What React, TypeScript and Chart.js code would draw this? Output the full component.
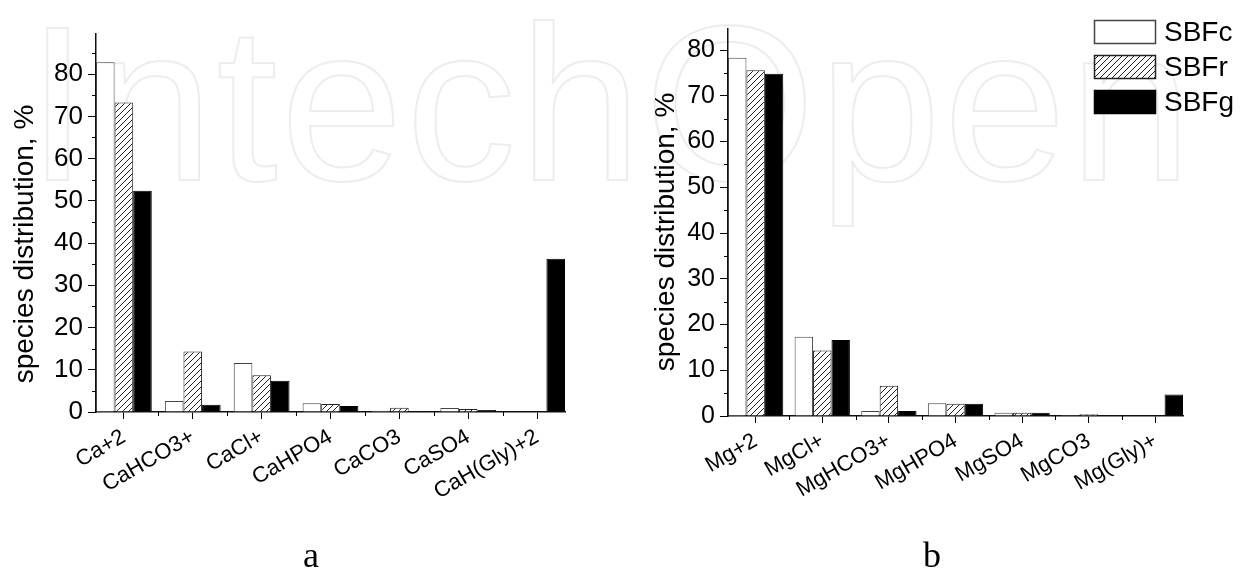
import React, { useEffect, useRef } from 'react';
import { Chart, registerables } from 'chart.js';

Chart.register(...registerables);

const seriesNames = ['SBFc', 'SBFr', 'SBFg'];

const caCategories = ['Ca+2', 'CaHCO3+', 'CaCl+', 'CaHPO4', 'CaCO3', 'CaSO4', 'CaH(Gly)+2'];
const caSBFc = [82.8, 2.6, 11.6, 2.1, 0.3, 0.95, 0];
const caSBFr = [73.3, 14.3, 8.7, 1.9, 1.0, 0.7, 0];
const caSBFg = [52.4, 1.7, 7.4, 1.4, 0.2, 0.5, 36.3];

const mgCategories = ['Mg+2', 'MgCl+', 'MgHCO3+', 'MgHPO4', 'MgSO4', 'MgCO3', 'Mg(Gly)+'];
const mgSBFc = [78.3, 17.3, 1.1, 2.8, 0.7, 0.2, 0];
const mgSBFr = [75.6, 14.3, 6.6, 2.7, 0.7, 0.4, 0];
const mgSBFg = [74.8, 16.6, 1.1, 2.7, 0.7, 0.15, 4.7];

const yTitle = 'species distribution, %';
const FONT = "'Liberation Sans', Arial, sans-serif";

function makeHatch(): CanvasPattern | string {
  const s = 6;
  const c = document.createElement('canvas');
  c.width = s;
  c.height = s;
  const g = c.getContext('2d');
  if (!g) return '#888';
  g.fillStyle = '#fff';
  g.fillRect(0, 0, s, s);
  g.strokeStyle = '#222';
  g.lineWidth = 1;
  g.beginPath();
  g.moveTo(0, s);
  g.lineTo(s, 0);
  g.moveTo(-2, 2);
  g.lineTo(2, -2);
  g.moveTo(s - 2, s + 2);
  g.lineTo(s + 2, s - 2);
  g.stroke();
  const p = g.createPattern(c, 'repeat');
  return p || '#888';
}

const decorPlugin = {
  id: 'decor',
  afterDraw(chart: any, _args: any, opts: any) {
    const ctx = chart.ctx as CanvasRenderingContext2D;
    const xs = chart.scales.x;
    const ys = chart.scales.y;
    ctx.save();
    ctx.strokeStyle = '#000';
    ctx.lineWidth = 1;
    // minor y ticks
    for (let v = 5; v < opts.yMax; v += 10) {
      const py = Math.round(ys.getPixelForValue(v)) + 0.5;
      ctx.beginPath();
      ctx.moveTo(chart.chartArea.left - 4, py);
      ctx.lineTo(chart.chartArea.left, py);
      ctx.stroke();
    }
    // minor x ticks
    for (let v = 1.5; v < opts.nCat; v += 1) {
      const px = Math.round(xs.getPixelForValue(v)) + 0.5;
      ctx.beginPath();
      ctx.moveTo(px, chart.chartArea.bottom);
      ctx.lineTo(px, chart.chartArea.bottom + 4);
      ctx.stroke();
    }
    // y axis title
    ctx.save();
    ctx.translate(opts.titleX, opts.titleY);
    ctx.rotate(-Math.PI / 2);
    ctx.font = `${opts.titleSize}px ${FONT}`;
    ctx.fillStyle = '#000';
    ctx.textAlign = 'center';
    ctx.textBaseline = 'middle';
    ctx.fillText(yTitle, 0, 0);
    ctx.restore();
    // legend
    if (opts.legend) {
      const L = opts.legend;
      chart.data.datasets.forEach((ds: any, i: number) => {
        const y0 = L.y + i * L.gap;
        ctx.fillStyle = ds.backgroundColor;
        ctx.fillRect(L.x, y0, L.w, L.h);
        ctx.strokeStyle = ds.borderColor;
        ctx.lineWidth = 1.5;
        ctx.strokeRect(L.x + 0.5, y0 + 0.5, L.w - 1, L.h - 1);
        ctx.fillStyle = '#000';
        ctx.font = `${L.size}px ${FONT}`;
        ctx.textAlign = 'left';
        ctx.textBaseline = 'middle';
        ctx.fillText(ds.label, L.x + L.w + 8, y0 + L.h / 2 + 1);
      });
    }
    ctx.restore();
  },
};

type PanelProps = {
  categories: string[];
  series: number[][];
  yMax: number;
  left: number;
  width: number;
  axisWidth: number;
  padTop: number;
  padRight: number;
  xAxisHeight: number;
  half: number;
  tickSize: number;
  xSize: number;
  titleSize: number;
  titleX: number;
  titleY: number;
  legend?: any;
};

function Panel(p: PanelProps) {
  const ref = useRef<HTMLCanvasElement | null>(null);
  useEffect(() => {
    if (!ref.current) return;
    const hatch = makeHatch();
    const fills = ['#ffffff', hatch, '#000000'];
    const borders = ['#444444', '#222222', '#000000'];
    const n = p.categories.length;
    const chart = new Chart(ref.current, {
      type: 'bar',
      data: {
        datasets: p.series.map((vals, i) => ({
          label: seriesNames[i],
          data: vals.map((v, j) => ({ x: j + 1, y: v })),
          backgroundColor: fills[i] as any,
          borderColor: borders[i],
          borderWidth: 1,
          categoryPercentage: p.half * 2,
          barPercentage: 1,
        })),
      },
      options: {
        animation: false,
        responsive: false,
        maintainAspectRatio: false,
        events: [],
        layout: { padding: { top: p.padTop, right: p.padRight, left: 0, bottom: 0 } },
        plugins: {
          legend: { display: false },
          tooltip: { enabled: false },
          decor: {
            yMax: p.yMax,
            nCat: n,
            titleX: p.titleX,
            titleY: p.titleY,
            titleSize: p.titleSize,
            legend: p.legend,
          },
        } as any,
        scales: {
          x: {
            type: 'linear',
            min: 1 - p.half,
            max: n + p.half,
            offset: false,
            ticks: {
              stepSize: 1,
              includeBounds: false,
              autoSkip: false,
              minRotation: 30,
              maxRotation: 30,
              padding: 5,
              color: '#000',
              font: { family: FONT, size: p.xSize },
              callback: (v: any) => {
                const k = Math.round(Number(v));
                return Math.abs(Number(v) - k) < 1e-6 ? p.categories[k - 1] ?? '' : '';
              },
            },
            grid: {
              display: true,
              offset: false,
              drawOnChartArea: false,
              drawTicks: true,
              tickLength: 7,
              color: '#000',
              tickColor: '#000',
              lineWidth: 1,
            },
            border: { display: true, color: '#111', width: 1.5 },
            afterFit: (s: any) => {
              s.height = p.xAxisHeight;
            },
          } as any,
          y: {
            min: 0,
            max: p.yMax,
            ticks: {
              stepSize: 10,
              includeBounds: false,
              padding: 5,
              color: '#000',
              font: { family: FONT, size: p.tickSize },
            },
            grid: {
              display: true,
              drawOnChartArea: false,
              drawTicks: true,
              tickLength: 8,
              color: '#000',
              tickColor: '#000',
              lineWidth: 1,
            },
            border: { display: true, color: '#111', width: 1.5 },
            afterFit: (s: any) => {
              s.width = p.axisWidth;
            },
          } as any,
        },
      },
      plugins: [decorPlugin as any],
    });
    return () => chart.destroy();
  }, []);
  return (
    <canvas
      ref={ref}
      width={p.width}
      height={578}
      style={{ position: 'absolute', left: p.left, top: 0, width: p.width, height: 578 }}
    />
  );
}

export default function App() {
  useEffect(() => {
    document.body.style.margin = '0';
  }, []);
  return (
    <div style={{ position: 'absolute', left: 0, top: 0, width: 1241, height: 578, background: '#fff', overflow: 'hidden' }}>
      <div
        style={{
          position: 'absolute',
          left: 27,
          top: -6,
          fontFamily: FONT,
          fontSize: 220,
          lineHeight: 1,
          letterSpacing: 3,
          color: 'transparent',
          WebkitTextStroke: '2px #ededed',
          whiteSpace: 'nowrap',
        }}
      >
        IntechOpen
      </div>
      <Panel
        categories={caCategories}
        series={[caSBFc, caSBFr, caSBFg]}
        yMax={89.5}
        left={0}
        width={620}
        axisWidth={96}
        padTop={34}
        padRight={55}
        xAxisHeight={166}
        half={0.405}
        tickSize={26}
        xSize={22}
        titleSize={28}
        titleX={25}
        titleY={244}
      />
      <Panel
        categories={mgCategories}
        series={[mgSBFc, mgSBFr, mgSBFg]}
        yMax={84.6}
        left={620}
        width={621}
        axisWidth={108}
        padTop={29}
        padRight={58}
        xAxisHeight={162}
        half={0.415}
        tickSize={25}
        xSize={22}
        titleSize={28}
        titleX={46}
        titleY={232}
        legend={{ x: 474, y: 20, w: 62, h: 24, gap: 35, size: 28 }}
      />
      <div style={{ position: 'absolute', left: 261, width: 100, top: 537, textAlign: 'center', fontFamily: "'Liberation Serif', 'Times New Roman', serif", fontSize: 36, lineHeight: 1, color: '#000' }}>a</div>
      <div style={{ position: 'absolute', left: 882, width: 100, top: 537, textAlign: 'center', fontFamily: "'Liberation Serif', 'Times New Roman', serif", fontSize: 36, lineHeight: 1, color: '#000' }}>b</div>
    </div>
  );
}
